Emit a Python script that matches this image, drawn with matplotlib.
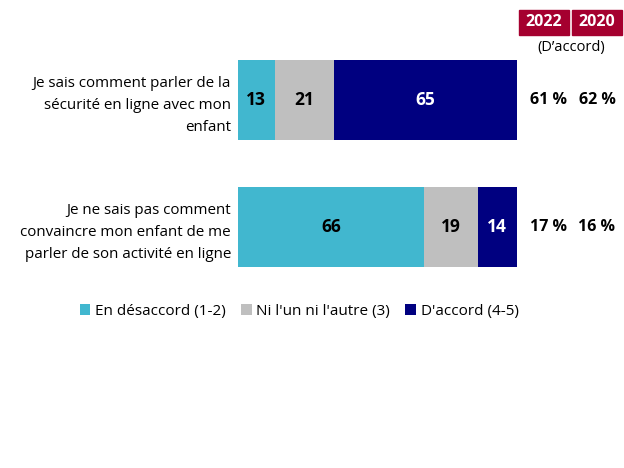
import matplotlib.pyplot as plt
import matplotlib.transforms as mtransforms
from matplotlib.patches import Rectangle

plt.rcParams['font.family'] = ['Open Sans', 'DejaVu Sans']

statements = [
    "Je sais comment parler de la\nsécurité en ligne avec mon\nenfant",
    "Je ne sais pas comment\nconvaincre mon enfant de me\nparler de son activité en ligne",
]
series_names = ["En désaccord (1-2)", "Ni l'un ni l'autre (3)", "D'accord (4-5)"]
disagree = [13, 66]
neutral = [21, 19]
agree = [65, 14]
agree_2022 = ["61 %", "17 %"]
agree_2020 = ["62 %", "16 %"]
years = ["2022", "2020"]

colors = ['#41B7CF', '#BFBFBF', '#000080']
text_colors = ['black', 'black', 'white']
header_red = '#A5002F'

fig = plt.figure(figsize=(6.24, 4.68), dpi=100)
ax = fig.add_axes([238 / 624, 1 - 290.5 / 468, 279 / 624, 254 / 468])

ypos = list(range(len(statements)))
left = [0] * len(statements)
for vals, col, tcol, name in zip([disagree, neutral, agree], colors, text_colors, series_names):
    bars = ax.barh(ypos, vals, left=left, height=0.63, color=col, label=name)
    for b, v in zip(bars, vals):
        ax.text(b.get_x() + b.get_width() / 2, b.get_y() + b.get_height() / 2, str(v),
                ha='center', va='center', fontsize=12.5, fontweight='bold', color=tcol)
    left = [l + v for l, v in zip(left, vals)]

ax.set_xlim(0, 99)
ax.set_ylim(1.5, -0.5)
ax.set_yticks(ypos)
ax.set_yticklabels(statements, fontsize=10.9, linespacing=1.65)
ax.tick_params(axis='y', length=0, pad=5)
ax.set_xticks([])
for s in ax.spines.values():
    s.set_visible(False)

# right-hand columns
trans = mtransforms.blended_transform_factory(fig.transFigure, ax.transData)
for y, a, b in zip(ypos, agree_2022, agree_2020):
    ax.text(548 / 624, y, a, transform=trans, ha='center', va='center', fontsize=11.5, fontweight='bold')
    ax.text(597 / 624, y, b, transform=trans, ha='center', va='center', fontsize=11.5, fontweight='bold')

# header boxes
for x0, yr in zip([519, 572], years):
    fig.patches.append(Rectangle((x0 / 624, 1 - 35 / 468), 50 / 624, 25 / 468,
                                 transform=fig.transFigure, color=header_red))
    fig.text((x0 + 25) / 624, 1 - 22.5 / 468, yr, ha='center', va='center',
             fontsize=11.5, fontweight='bold', color='white')
fig.text(571 / 624, 1 - 47 / 468, "(D’accord)", ha='center', va='center', fontsize=10.5)

fig.legend(loc='center', bbox_to_anchor=(299 / 624, 1 - 311 / 468), ncol=3, frameon=False,
           fontsize=11, handlelength=0.7, handleheight=0.7, handletextpad=0.3, columnspacing=1.0)

fig.savefig('out.png', dpi=100)
